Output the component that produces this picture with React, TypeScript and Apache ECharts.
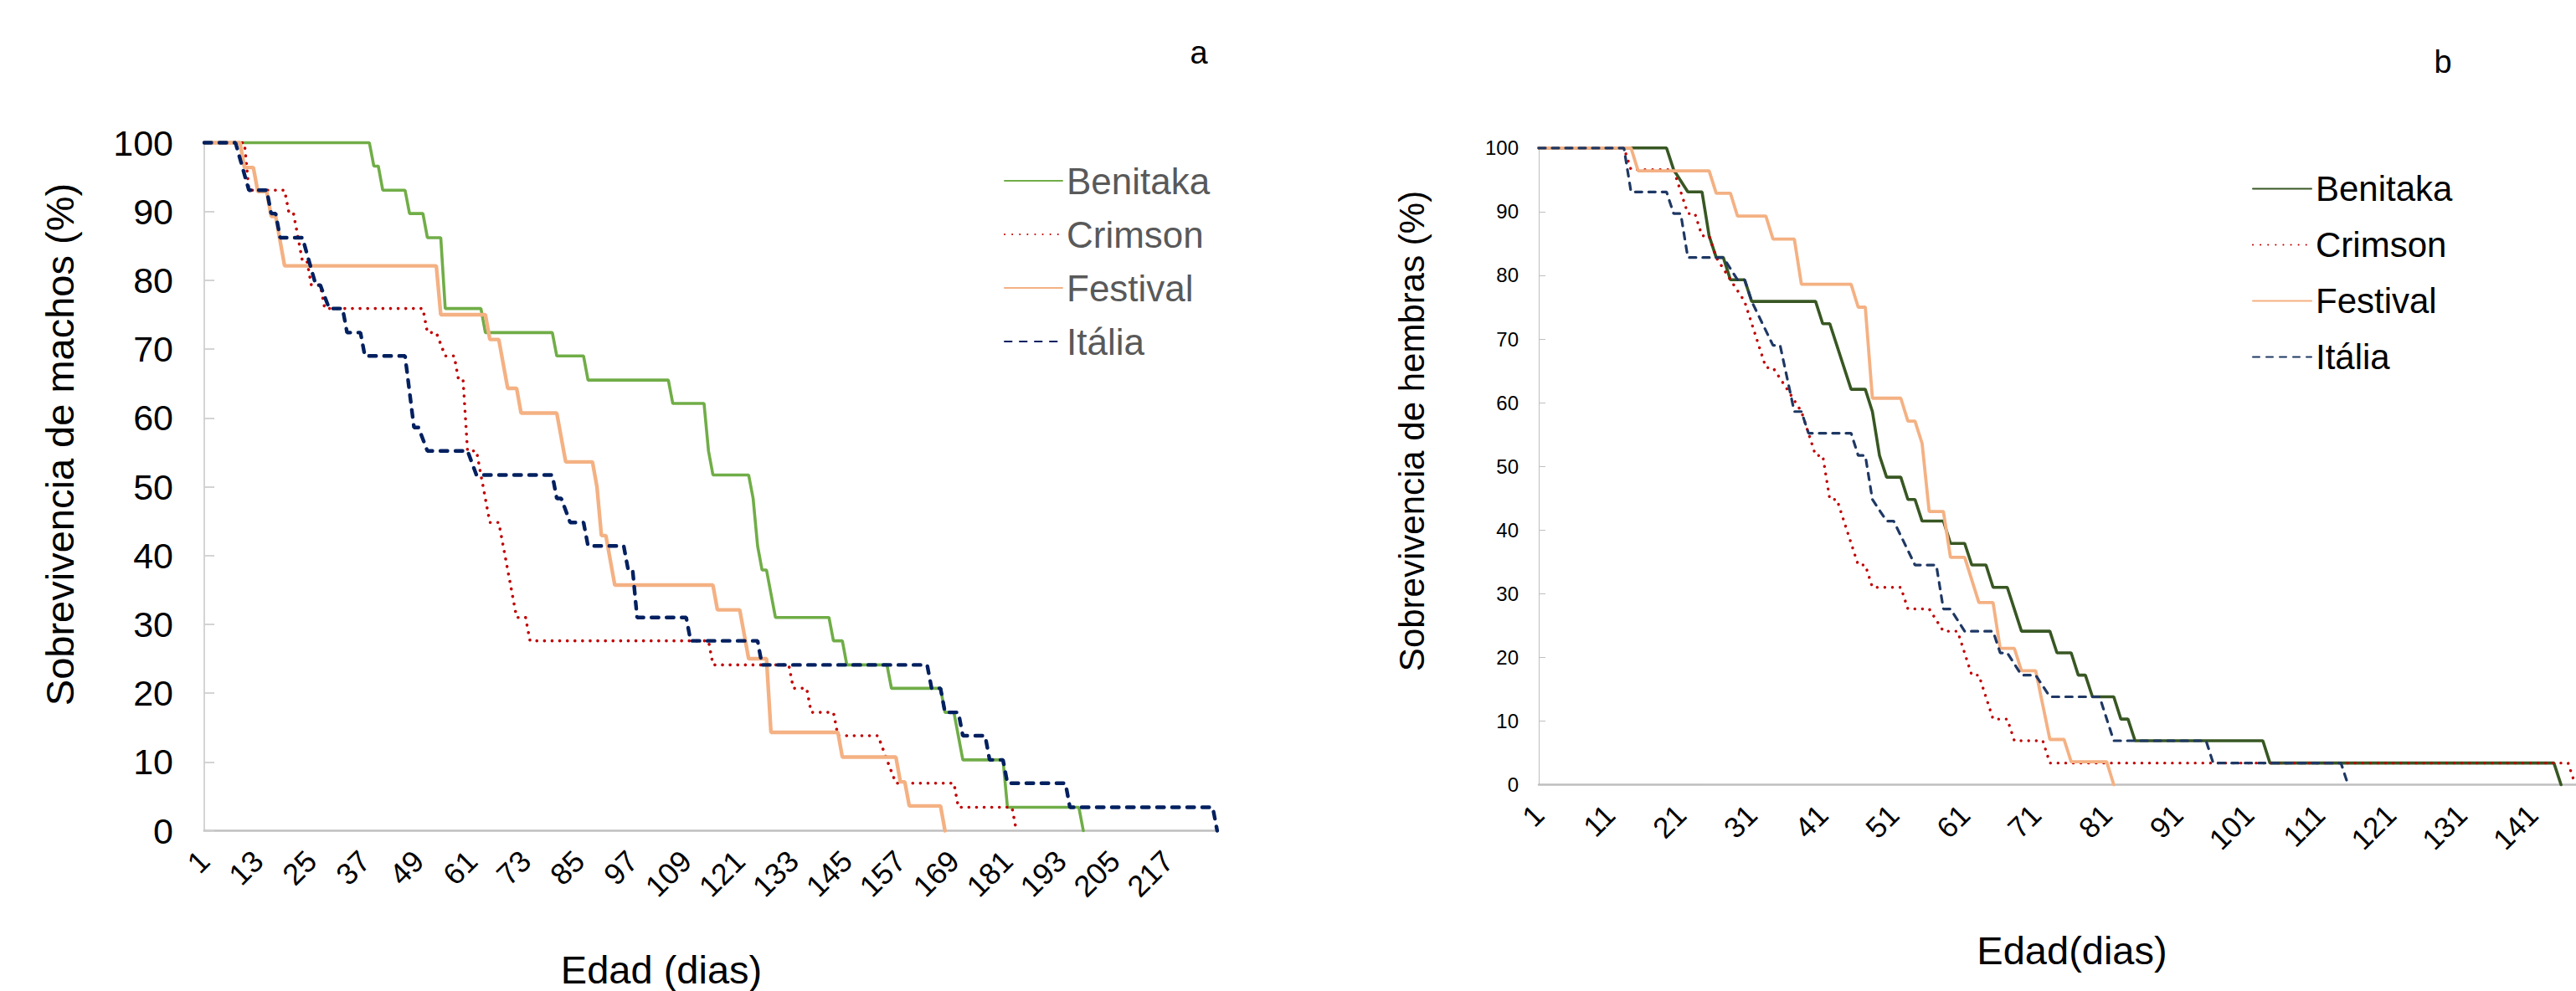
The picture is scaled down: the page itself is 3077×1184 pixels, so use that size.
import React, { useEffect, useRef } from "react";
import * as echarts from "echarts";

// ---------- data (day, survival %) : vertices ----------
const seriesNames = ["Benitaka", "Crimson", "Festival", "Itália"];

// Panel a – machos
const benitakaA: number[][] = [[1,100],[38,100],[39,96.6],[40,96.6],[41,93.1],[46,93.1],[47,89.7],[50,89.7],[51,86.2],[54,86.2],[55,75.9],[63,75.9],[64,72.4],[79,72.4],[80,69.0],[86,69.0],[87,65.5],[105,65.5],[106,62.1],[113,62.1],[114,55.2],[115,51.7],[123,51.7],[124,48.3],[125,41.4],[126,37.9],[127,37.9],[129,31.0],[141,31.0],[142,27.6],[144,27.6],[145,24.1],[154,24.1],[155,20.7],[166,20.7],[167,17.2],[169,17.2],[171,10.3],[180,10.3],[181,3.4],[197,3.4],[198,0]];
const crimsonA: number[][] = [[1,100],[10,100],[11,93.1],[19,93.1],[20,89.7],[21,89.7],[23,82.8],[24,82.8],[25,79.3],[27,79.3],[28,75.9],[50,75.9],[51,72.4],[53,72.4],[55,69.0],[57,69.0],[58,65.5],[59,65.5],[60,55.2],[62,55.2],[63,51.7],[65,44.8],[67,44.8],[71,31.0],[73,31.0],[74,27.6],[114,27.6],[115,24.1],[132,24.1],[133,20.7],[136,20.7],[137,17.2],[142,17.2],[143,13.8],[152,13.8],[154,10.3],[156,6.9],[169,6.9],[170,3.4],[182,3.4],[183,0]];
const festivalA: number[][] = [[1,100],[9,100],[10,96.4],[12,96.4],[13,92.9],[15,92.9],[16,89.3],[17,89.3],[19,82.1],[53,82.1],[54,75.0],[64,75.0],[65,71.4],[67,71.4],[69,64.3],[71,64.3],[72,60.7],[80,60.7],[82,53.6],[88,53.6],[89,50.0],[90,42.9],[91,42.9],[93,35.7],[115,35.7],[116,32.1],[121,32.1],[123,25.0],[127,25.0],[128,14.3],[143,14.3],[144,10.7],[156,10.7],[157,7.1],[158,7.1],[159,3.6],[166,3.6],[167,0]];
const italiaA: number[][] = [[1,100],[8,100],[11,93.1],[15,93.1],[16,89.7],[17,89.7],[18,86.2],[23,86.2],[26,79.3],[27,79.3],[29,75.9],[32,75.9],[33,72.4],[36,72.4],[37,69.0],[46,69.0],[48,58.6],[49,58.6],[51,55.2],[60,55.2],[62,51.7],[79,51.7],[80,48.3],[81,48.3],[83,44.8],[86,44.8],[87,41.4],[95,41.4],[96,37.9],[97,37.9],[98,31.0],[109,31.0],[110,27.6],[125,27.6],[126,24.1],[163,24.1],[164,20.7],[166,20.7],[167,17.2],[170,17.2],[171,13.8],[176,13.8],[177,10.3],[180,10.3],[181,6.9],[194,6.9],[195,3.4],[227,3.4],[228,0]];

// Panel b – hembras
const benitakaB: number[][] = [[1,100],[19,100],[20,96.6],[22,93.1],[24,93.1],[25,86.2],[26,82.8],[27,82.8],[28,79.3],[30,79.3],[31,75.9],[40,75.9],[41,72.4],[42,72.4],[45,62.1],[47,62.1],[48,58.6],[49,51.7],[50,48.3],[52,48.3],[53,44.8],[54,44.8],[55,41.4],[58,41.4],[59,37.9],[61,37.9],[62,34.5],[64,34.5],[65,31.0],[67,31.0],[69,24.1],[73,24.1],[74,20.7],[76,20.7],[77,17.2],[78,17.2],[79,13.8],[82,13.8],[83,10.3],[84,10.3],[85,6.9],[103,6.9],[104,3.4],[144,3.4],[145,0]];
const crimsonB: number[][] = [[1,100],[13,100],[14,96.6],[20,96.6],[22,89.7],[23,89.7],[24,86.2],[25,86.2],[26,82.8],[28,79.3],[30,75.9],[33,65.5],[34,65.5],[36,62.1],[38,58.6],[39,55.2],[40,51.7],[41,51.7],[42,44.8],[43,44.8],[46,34.5],[47,34.5],[48,31.0],[52,31.0],[53,27.6],[56,27.6],[58,24.1],[60,24.1],[62,17.2],[63,17.2],[65,10.3],[67,10.3],[68,6.9],[72,6.9],[73,3.4],[146,3.4],[147,0]];
const festivalB: number[][] = [[1,100],[14,100],[15,96.4],[25,96.4],[26,92.9],[28,92.9],[29,89.3],[33,89.3],[34,85.7],[37,85.7],[38,78.6],[45,78.6],[46,75.0],[47,75.0],[48,60.7],[52,60.7],[53,57.1],[54,57.1],[55,53.6],[56,42.9],[58,42.9],[59,35.7],[61,35.7],[63,28.6],[65,28.6],[66,21.4],[68,21.4],[69,17.9],[71,17.9],[73,7.1],[75,7.1],[76,3.6],[81,3.6],[82,0]];
const italiaB: number[][] = [[1,100],[13,100],[14,93.1],[19,93.1],[20,89.7],[21,89.7],[22,82.8],[27,82.8],[29,79.3],[30,79.3],[31,75.9],[34,69.0],[35,69.0],[37,58.6],[38,58.6],[39,55.2],[45,55.2],[46,51.7],[47,51.7],[48,44.8],[50,41.4],[51,41.4],[54,34.5],[57,34.5],[58,27.6],[59,27.6],[61,24.1],[65,24.1],[66,20.7],[67,20.7],[69,17.2],[71,17.2],[73,13.8],[80,13.8],[82,6.9],[95,6.9],[96,3.4],[114,3.4],[115,0]];

// axis ranges / tick steps
const lastDayA = 228;
const lastDayB = 150;
const xTickStepA = 12;
const xTickStepB = 10;
const yMin = 0;
const yMax = 100;
const yTickStep = 10;

const FONT = "'Liberation Sans', Arial, Helvetica, sans-serif";

export default function App() {
  const ref = useRef<HTMLDivElement>(null);

  useEffect(() => {
    if (!ref.current) return;
    const chart = echarts.init(ref.current, undefined, { renderer: "svg" });
    const toXY = (pts: number[][]) => pts.map(([d, v]) => [d - 1, v]);

    const stylesA = [
      { color: "#70AD47", width: 3.6, type: "solid" as any, cap: "round" },
      { color: "#C00000", width: 3.6, type: [0.1, 9] as any, cap: "round" },
      { color: "#F4B183", width: 4.4, type: "solid" as any, cap: "round" },
      { color: "#002060", width: 4.4, type: [8.5, 9.5] as any, cap: "round" },
    ];
    const stylesB = [
      { color: "#385723", width: 3.6, type: "solid" as any, cap: "round" },
      { color: "#C00000", width: 3.4, type: [0.1, 9] as any, cap: "round" },
      { color: "#F4B183", width: 3.8, type: "solid" as any, cap: "round" },
      { color: "#1F3864", width: 3.2, type: [8, 8] as any, cap: "round" },
    ];
    const dataA = [benitakaA, crimsonA, festivalA, italiaA];
    const dataB = [benitakaB, crimsonB, festivalB, italiaB];

    const series: any[] = [];
    seriesNames.forEach((n, i) => {
      series.push({
        type: "line", name: n, xAxisIndex: 0, yAxisIndex: 0,
        data: toXY(dataA[i]), symbol: "none", showSymbol: false, clip: false,
        lineStyle: stylesA[i], z: 2 + i,
      });
    });
    seriesNames.forEach((n, i) => {
      series.push({
        type: "line", name: "b:" + n, xAxisIndex: 1, yAxisIndex: 1,
        data: toXY(dataB[i]), symbol: "none", showSymbol: false, clip: false,
        lineStyle: stylesB[i], z: 2 + i,
      });
    });

    const pxA = 5.33, pxB = 8.48;
    const gridA = { left: 244, top: 170.5, width: (lastDayA - 1) * pxA, height: 822 };
    const gridB = { left: 1838, top: 176.8, width: (lastDayB - 1) * pxB, height: 760.7 };

    const xAxisCommon = (step: number, max: number, color: string, w: number, fs: number, margin: number) => ({
      type: "value", min: 0, max, interval: step,
      axisLine: { show: true, lineStyle: { color, width: w } },
      axisTick: { show: false },
      splitLine: { show: false },
      axisLabel: {
        rotate: 45, margin, fontSize: fs, color: "#000", fontFamily: FONT,
        showMaxLabel: false, formatter: (v: number) => String(v + 1),
      },
    });
    const yAxisCommon = (lineColor: string, lw: number, fs: number, margin: number, tickLen: number) => ({
      type: "value", min: yMin, max: yMax, interval: yTickStep,
      axisLine: { show: true, lineStyle: { color: lineColor, width: lw } },
      axisTick: { show: true, inside: true, length: tickLen, lineStyle: { color: lineColor, width: lw } },
      splitLine: { show: false },
      axisLabel: { fontSize: fs, color: "#000", margin, fontFamily: FONT },
    });

    const option: any = {
      animation: false,
      backgroundColor: "#ffffff",
      textStyle: { fontFamily: FONT },
      grid: [
        { ...gridA, containLabel: false },
        { ...gridB, containLabel: false },
      ],
      xAxis: [
        { gridIndex: 0, ...xAxisCommon(xTickStepA, lastDayA - 1, "#BFBFBF", 2.5, 36, 30) },
        { gridIndex: 1, ...xAxisCommon(xTickStepB, lastDayB - 1, "#BFBFBF", 2.5, 35, 30) },
      ],
      yAxis: [
        { gridIndex: 0, ...yAxisCommon("#D0D0D0", 1.8, 43, 37, 12) },
        { gridIndex: 1, ...yAxisCommon("#BFBFBF", 1, 24, 24, 8) },
      ],
      legend: [
        {
          orient: "vertical", left: 1194, top: 189, itemWidth: 69, itemHeight: 2, itemGap: 20,
          data: seriesNames,
          selectedMode: false,
          itemStyle: { opacity: 0, borderWidth: 0 },
          textStyle: { fontSize: 44, lineHeight: 44, color: "#595959", fontFamily: FONT },
        },
        {
          orient: "vertical", left: 2685, top: 199.5, itemWidth: 70, itemHeight: 2, itemGap: 25,
          data: seriesNames.map((n) => "b:" + n),
          selectedMode: false,
          itemStyle: { opacity: 0, borderWidth: 0 },
          formatter: (name: string) => name.replace(/^b:/, ""),
          textStyle: { fontSize: 42, lineHeight: 42, color: "#000", fontFamily: FONT },
        },
      ],
      graphic: [
        { type: "text", x: 71, y: 531, rotation: Math.PI / 2,
          style: { text: "Sobrevivencia de machos (%)", font: `47px ${FONT}`, fill: "#000", align: "center", verticalAlign: "middle" } },
        { type: "text", x: 1686, y: 515, rotation: Math.PI / 2,
          style: { text: "Sobrevivencia de hembras (%)", font: `42px ${FONT}`, fill: "#000", align: "center", verticalAlign: "middle" } },
        { type: "text", x: 790, y: 1158,
          style: { text: "Edad (dias)", font: `47px ${FONT}`, fill: "#000", align: "center", verticalAlign: "middle" } },
        { type: "text", x: 2475, y: 1135,
          style: { text: "Edad(dias)", font: `47px ${FONT}`, fill: "#000", align: "center", verticalAlign: "middle" } },
        { type: "text", x: 1432, y: 63,
          style: { text: "a", font: `38px ${FONT}`, fill: "#000", align: "center", verticalAlign: "middle" } },
        { type: "text", x: 2918, y: 74,
          style: { text: "b", font: `38px ${FONT}`, fill: "#000", align: "center", verticalAlign: "middle" } },
      ],
      series,
    };
    chart.setOption(option);
    return () => chart.dispose();
  }, []);

  return (
    <div style={{ position: "fixed", left: 0, top: 0, width: "100vw", height: "100vh", overflow: "hidden", background: "#fff" }}>
      <div ref={ref} style={{ width: 3140, height: 1184 }} />
    </div>
  );
}
